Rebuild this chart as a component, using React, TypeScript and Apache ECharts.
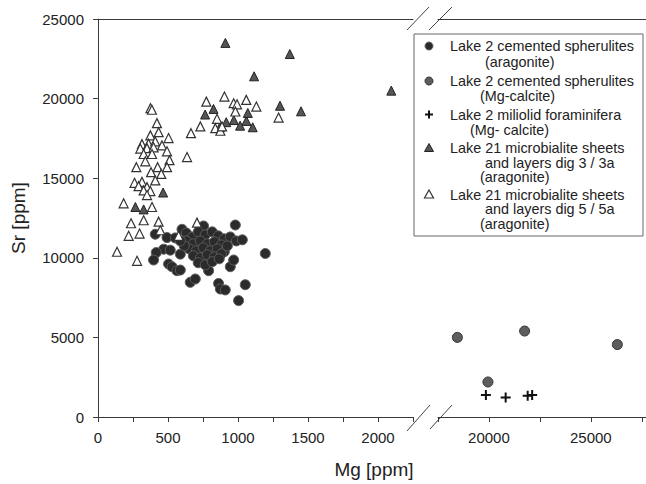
import React, { useEffect, useRef } from 'react';
import * as echarts from 'echarts';

// ---------- data ----------
const spherulitesAragonite: number[][] = [
  [409, 11480], [493, 11270], [469, 10540], [516, 10480], [416, 10330], [397, 9860], [588, 10230],
  [504, 9610], [529, 9440], [564, 9190], [588, 9230], [659, 8460], [695, 8670], [790, 9190],
  [790, 10020], [838, 9980], [945, 9440], [969, 9860], [861, 8390], [874, 8040], [909, 7980],
  [1052, 8310], [1004, 7310], [1195, 10270], [600, 11790], [754, 12000], [981, 12060],
  [631, 11560], [674, 11310], [716, 11630], [766, 11440], [816, 11630], [859, 11380], [902, 11190],
  [945, 11310], [988, 11060], [1031, 11130], [631, 11060], [681, 10880], [731, 11060], [781, 10880],
  [831, 11000], [881, 10810], [652, 10560], [702, 10440], [752, 10630], [802, 10440], [852, 10560],
  [902, 10380], [681, 10130], [731, 10000], [781, 10190], [831, 10060], [881, 10250], [716, 9690],
  [766, 9560], [816, 9750], [866, 9940], [616, 10750], [924, 10750], [552, 11250], [588, 11060],
];
const spherulitesMgCalcite: number[][] = [
  [18450, 5000], [21750, 5400], [26300, 4550], [19950, 2200],
];
const miliolidForaminifera: number[][] = [
  [19850, 1380], [20820, 1230], [21900, 1330], [22120, 1380],
];
const microbialiteDig3: number[][] = [
  [910, 23500], [1370, 22800], [1115, 21400], [1300, 19550], [1450, 19200], [2095, 20500],
  [765, 19000], [825, 19350], [970, 18650], [1060, 18600], [1070, 19100], [1105, 18200],
  [1015, 18300], [916, 18520], [870, 18200], [465, 14100], [267, 13190], [326, 13040],
];
const microbialiteDig5: number[][] = [
  [903, 20130], [774, 19810], [969, 19710], [993, 19640], [1059, 19920], [1131, 19500], [981, 19190],
  [850, 18730], [731, 18250], [664, 17830], [838, 18140], [874, 17980], [886, 18250], [1290, 18810],
  [636, 16330], [375, 19400], [385, 19300], [421, 18460], [433, 17890], [374, 17690], [504, 17520],
  [314, 17140], [361, 17170], [409, 17310], [457, 17060], [302, 16860], [350, 16890], [397, 16940],
  [493, 16690], [326, 16520], [386, 16520], [511, 16130], [338, 16060], [426, 15690], [493, 15690],
  [274, 15690], [379, 15380], [452, 15270], [409, 14860], [261, 14710], [314, 14770], [290, 14500],
  [350, 14440], [326, 14230], [374, 14190], [350, 13940], [183, 13420], [386, 13190], [236, 12170],
  [326, 12360], [433, 12270], [219, 11380], [297, 11520], [136, 10380], [279, 9810], [707, 12210],
  [445, 11730], [576, 11380],
];

const xLeftLabels = [0, 500, 1000, 1500, 2000];
const xRightLabels = [20000, 25000];
const yLabels = [0, 5000, 10000, 15000, 20000, 25000];

const seriesNames = [
  'Lake 2 cemented spherulites (aragonite)',
  'Lake 2 cemented spherulites (Mg-calcite)',
  'Lake 2 miliolid foraminifera (Mg- calcite)',
  'Lake 21 microbialite sheets and layers dig 3 / 3a (aragonite)',
  'Lake 21 microbialite sheets and layers dig 5 / 5a (aragonite)',
];
const legendLines: string[][] = [
  ['Lake 2 cemented spherulites', '(aragonite)'],
  ['Lake 2 cemented spherulites', '(Mg-calcite)'],
  ['Lake 2 miliolid foraminifera', '(Mg- calcite)'],
  ['Lake 21 microbialite sheets', 'and layers dig 3 / 3a', '(aragonite)'],
  ['Lake 21 microbialite sheets', 'and layers dig 5 / 5a', '(aragonite)'],
];

const FONT = "'Liberation Sans', Arial, Helvetica, sans-serif";
const AXIS_COLOR = '#3a3a3a';
const TEXT_COLOR = '#222';
const PLUS = 'path://M4,0h2v4h4v2h-4v4h-2v-4h-4v-2h4z';

// styles shared by series and legend swatches
const STYLES = [
  { color: '#2b2b2b', borderColor: '#5c5c5c', borderWidth: 1 },
  { color: '#5e5e5e', borderColor: '#333', borderWidth: 1 },
  { color: '#111', borderColor: '#111', borderWidth: 0 },
  { color: '#555', borderColor: '#222', borderWidth: 1 },
  { color: '#fff', borderColor: '#333', borderWidth: 1.2 },
];

// legend layout (pixels, relative to the legend box)
const LEG_X = 414, LEG_Y = 34, LEG_W = 229, LEG_H = 202;
const LEG_ICON_X = 15, LEG_TEXT_X = 36;
const LEG_FONT = 14.4;
const LEG_LINE_Y: number[][] = [
  [12, 27.5], [47, 62], [80.5, 96], [114, 128.5, 143], [160.5, 175, 189.5],
];
const LEG_INDENT: number[][] = [
  [0, 35], [0, 30], [0, 20], [0, 35, 30], [0, 35, 30],
];

function legendIcon(i: number, cy: number): any {
  const s = STYLES[i];
  const style = { fill: s.color, stroke: s.borderWidth ? s.borderColor : undefined, lineWidth: s.borderWidth };
  const cx = LEG_ICON_X;
  if (i <= 1) return { type: 'circle', shape: { cx, cy, r: 4 }, style };
  if (i === 2)
    return {
      type: 'polygon',
      shape: {
        points: [
          [cx - 1, cy - 4], [cx + 1, cy - 4], [cx + 1, cy - 1], [cx + 4, cy - 1], [cx + 4, cy + 1],
          [cx + 1, cy + 1], [cx + 1, cy + 4], [cx - 1, cy + 4], [cx - 1, cy + 1], [cx - 4, cy + 1],
          [cx - 4, cy - 1], [cx - 1, cy - 1],
        ],
      },
      style: { fill: s.color },
    };
  return {
    type: 'polygon',
    shape: { points: [[cx, cy - 4.5], [cx + 4.5, cy + 3.5], [cx - 4.5, cy + 3.5]] },
    style,
  };
}

export default function App() {
  const ref = useRef<HTMLDivElement>(null);
  useEffect(() => {
    document.body.style.margin = '0';
    const chart = echarts.init(ref.current!, null, { renderer: 'svg' });
    const lineStyle = { color: AXIS_COLOR, width: 1 };
    const labelBase = { fontSize: 15, color: TEXT_COLOR, fontFamily: FONT };
    const topAxis = (gridIndex: number, min: number, max: number) => ({
      type: 'value', gridIndex, position: 'top', min, max,
      axisLine: { show: true, onZero: false, lineStyle },
      axisTick: { show: false }, axisLabel: { show: false }, splitLine: { show: false },
    });

    const legendChildren: any[] = [
      {
        type: 'rect', shape: { x: 0, y: 0, width: LEG_W, height: LEG_H },
        style: { fill: '#fff', stroke: '#666', lineWidth: 1 },
      },
    ];
    legendLines.forEach((lines, i) => {
      legendChildren.push(legendIcon(i, LEG_LINE_Y[i][0]));
      lines.forEach((t, j) => {
        legendChildren.push({
          type: 'text', x: LEG_TEXT_X + LEG_INDENT[i][j], y: LEG_LINE_Y[i][j],
          style: { text: t, fontSize: LEG_FONT, fontFamily: FONT, fill: TEXT_COLOR, align: 'left', verticalAlign: 'middle' },
        });
      });
    });

    const option: any = {
      animation: false,
      backgroundColor: '#fff',
      grid: [
        { left: 98, top: 19, width: 315, height: 398, outerBoundsMode: 'none' },
        { left: 438, top: 19, width: 214, height: 398, outerBoundsMode: 'none' },
      ],
      xAxis: [
        {
          type: 'value', gridIndex: 0, min: 0, max: 2250, interval: 250, position: 'bottom',
          axisLine: { show: true, onZero: false, lineStyle },
          axisTick: { show: true, length: 5, lineStyle },
          axisLabel: { ...labelBase, margin: 13, formatter: (v: number) => (xLeftLabels.includes(v) ? String(v) : '') },
          splitLine: { show: false },
        },
        {
          type: 'value', gridIndex: 1, min: 17500, max: 28000, interval: 2500, position: 'bottom',
          axisLine: { show: true, onZero: false, lineStyle },
          axisTick: { show: true, length: 5, lineStyle },
          axisLabel: { ...labelBase, margin: 13, formatter: (v: number) => (xRightLabels.includes(v) ? String(v) : '') },
          splitLine: { show: false },
        },
        topAxis(0, 0, 2250),
        topAxis(1, 17500, 28000),
      ],
      yAxis: [
        {
          type: 'value', gridIndex: 0, min: 0, max: 25000, interval: 5000,
          name: 'Sr [ppm]', nameLocation: 'middle', nameGap: 70,
          nameTextStyle: { fontSize: 19, color: TEXT_COLOR, fontFamily: FONT },
          axisLine: { show: true, onZero: false, lineStyle },
          axisTick: { show: true, length: 5, lineStyle },
          axisLabel: { ...labelBase, margin: 14, formatter: (v: number) => (yLabels.includes(v) ? String(v) : '') },
          splitLine: { show: false },
        },
        { type: 'value', gridIndex: 1, min: 0, max: 25000, show: false, splitLine: { show: false } },
      ],
      graphic: [
        { type: 'line', shape: { x1: 407, y1: 30, x2: 429, y2: 7 }, style: { stroke: '#444', lineWidth: 1 } },
        { type: 'line', shape: { x1: 429, y1: 30, x2: 452, y2: 7 }, style: { stroke: '#444', lineWidth: 1 } },
        { type: 'line', shape: { x1: 407, y1: 431, x2: 430, y2: 405 }, style: { stroke: '#444', lineWidth: 1 } },
        { type: 'line', shape: { x1: 430, y1: 429, x2: 452, y2: 405 }, style: { stroke: '#444', lineWidth: 1 } },
        {
          type: 'text', x: 374, y: 469,
          style: { text: 'Mg [ppm]', fontSize: 19, fontFamily: FONT, fill: TEXT_COLOR, align: 'center', verticalAlign: 'middle' },
        },
        { type: 'group', x: LEG_X, y: LEG_Y, z: 100, children: legendChildren },
      ],
      series: [
        {
          name: seriesNames[0], type: 'scatter', xAxisIndex: 0, yAxisIndex: 0, data: spherulitesAragonite,
          symbol: 'circle', symbolSize: 10, z: 2, itemStyle: { ...STYLES[0], opacity: 1 },
        },
        {
          name: seriesNames[1], type: 'scatter', xAxisIndex: 1, yAxisIndex: 1, data: spherulitesMgCalcite,
          symbol: 'circle', symbolSize: 10, z: 2, itemStyle: { ...STYLES[1], opacity: 1 },
        },
        {
          name: seriesNames[2], type: 'scatter', xAxisIndex: 1, yAxisIndex: 1, data: miliolidForaminifera,
          symbol: PLUS, symbolSize: 10, z: 3, itemStyle: { color: STYLES[2].color, opacity: 1 },
        },
        {
          name: seriesNames[3], type: 'scatter', xAxisIndex: 0, yAxisIndex: 0, data: microbialiteDig3,
          symbol: 'triangle', symbolSize: 9, z: 3, itemStyle: { ...STYLES[3], opacity: 1 },
        },
        {
          name: seriesNames[4], type: 'scatter', xAxisIndex: 0, yAxisIndex: 0, data: microbialiteDig5,
          symbol: 'triangle', symbolSize: 9, z: 4, itemStyle: { ...STYLES[4], opacity: 1 },
        },
      ],
    };
    chart.setOption(option);
    return () => chart.dispose();
  }, []);
  return <div ref={ref} style={{ position: 'absolute', left: 0, top: 0, width: 646, height: 484 }} />;
}
